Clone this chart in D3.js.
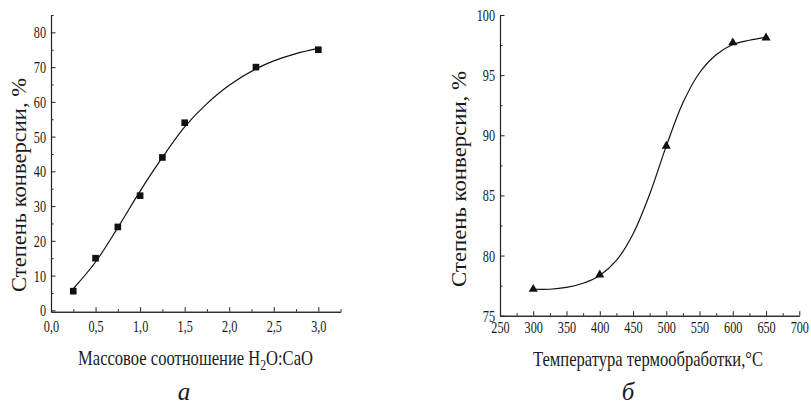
<!DOCTYPE html>
<html><head><meta charset="utf-8">
<script src="https://cdn.jsdelivr.net/npm/d3@7"></script>
<style>
html,body{margin:0;padding:0;background:#fff;}
svg{display:block;}
text{font-family:"Liberation Serif","DejaVu Serif",serif;fill:#1a1a1a;}
</style></head>
<body>
<svg id="chart" width="811" height="407"></svg>
<script>
// ---- data: chart a ----
const ratioX = [0.25, 0.5, 0.75, 1.0, 1.25, 1.5, 2.3, 3.0];
const conversionA = [5.5, 15, 24, 33, 44, 54, 70, 75];
const fitRatioX = [0.25, 0.5, 0.75, 1.0, 1.25, 1.5, 1.75, 2.0, 2.3, 2.5, 2.75, 3.0];
const fitConversionA = [6.2, 13.9, 23.8, 34.3, 44.0, 52.8, 59.5, 64.8, 69.5, 71.8, 73.9, 75.4];
const ticksAX = [0, 0.5, 1.0, 1.5, 2.0, 2.5, 3.0];
const ticksAY = [0, 10, 20, 30, 40, 50, 60, 70, 80];

// ---- data: chart б ----
const tempX = [300, 400, 500, 600, 650];
const conversionB = [77.2, 78.4, 89.1, 97.7, 98.1];
const fitTempX = [300, 325, 350, 375, 400, 425, 450, 475, 500, 525, 550, 575, 600, 625, 650];
const fitConversionB = [77.2, 77.2, 77.35, 77.7, 78.35, 79.6, 81.8, 85.1, 89.1, 92.7, 95.2, 96.7, 97.55, 97.9, 98.15];
const ticksBX = [250, 300, 350, 400, 450, 500, 550, 600, 650, 700];
const ticksBY = [75, 80, 85, 90, 95, 100];

const svg = d3.select("#chart");
const SX = 0.72; // condensed tick font

function styleAxis(g) {
  g.attr("font-family", null);
  g.selectAll("path.domain").attr("stroke", "#222").attr("stroke-width", 1.1);
  g.selectAll(".tick line").attr("stroke", "#222").attr("stroke-width", 1);
  g.selectAll("text").attr("font-size", 17).attr("fill", "#1a1a1a");
}

function drawPanel(cfg) {
  const x = d3.scaleLinear().domain(cfg.xDom).range(cfg.xRange);
  const y = d3.scaleLinear().domain(cfg.yDom).range(cfg.yRange);
  const g = svg.append("g");
  const y0 = cfg.yRange[0], x0 = cfg.xRange[0];

  // minor ticks
  g.append("g").attr("transform", `translate(0,${y0})`)
    .call(d3.axisBottom(x).tickValues(cfg.xMinor).tickSizeInner(-2.5).tickSizeOuter(0).tickFormat(""))
    .call(styleAxis);
  g.append("g").attr("transform", `translate(${x0},0)`)
    .call(d3.axisLeft(y).tickValues(cfg.yMinor).tickSizeInner(-2.5).tickSizeOuter(0).tickFormat(""))
    .call(styleAxis);

  // major x axis
  const gx = g.append("g").attr("transform", `translate(0,${y0})`)
    .call(d3.axisBottom(x).tickValues(cfg.xTicks).tickSizeInner(-4.5).tickSizeOuter(0)
      .tickPadding(cfg.xPad).tickFormat(cfg.xFmt))
    .call(styleAxis);
  gx.selectAll(".tick text").attr("transform", `scale(${SX},1)`);

  // major y axis
  const gy = g.append("g").attr("transform", `translate(${x0},0)`)
    .call(d3.axisLeft(y).tickValues(cfg.yTicks).tickSizeInner(-4.5).tickSizeOuter(0)
      .tickPadding(0).tickFormat(cfg.yFmt))
    .call(styleAxis);
  gy.selectAll(".tick text").attr("x", 0)
    .attr("transform", `translate(${-cfg.yPad},0) scale(${SX},1)`);

  // fit curve
  const line = d3.line().x(d => x(d[0])).y(d => y(d[1])).curve(d3.curveCatmullRom.alpha(0.5));
  g.append("path").datum(d3.zip(cfg.fitX, cfg.fitY))
    .attr("d", line).attr("fill", "none").attr("stroke", "#111").attr("stroke-width", 1.2);

  // markers
  g.selectAll("path.mk").data(d3.zip(cfg.px, cfg.py)).join("path")
    .attr("class", "mk")
    .attr("d", d3.symbol().type(cfg.symbol).size(cfg.symSize))
    .attr("transform", d => `translate(${x(d[0])},${y(d[1])})`)
    .attr("fill", "#111");

  // y label
  const yl = g.append("text").attr("font-size", 20).attr("text-anchor", "middle")
    .text("Степень конверсии, %");
  const sy = cfg.yLabelW / yl.node().getComputedTextLength();
  yl.attr("transform", `translate(${cfg.yLabelX},${cfg.yLabelY}) rotate(-90) scale(${sy},1)`);

  // x label
  const xl = g.append("text").attr("font-size", 20).attr("text-anchor", "middle");
  cfg.xLabel(xl);
  const sx = cfg.xLabelW / xl.node().getBBox().width;
  xl.attr("transform", `translate(${cfg.xLabelX},${cfg.xLabelY}) scale(${sx},1)`);

  // panel letter
  g.append("text").attr("x", cfg.letterX).attr("y", 400).attr("font-size", 25)
    .attr("font-style", "italic").attr("text-anchor", "middle").text(cfg.letter);
}

const commaFmt = d => d3.format(".1f")(d).replace(".", ",");

drawPanel({
  xDom: [0, 3.25], xRange: [51, 340.6],
  yDom: [-0.4, 85], yRange: [311.7, 15],
  xTicks: ticksAX, yTicks: ticksAY,
  xMinor: d3.range(0.25, 3.3, 0.5), yMinor: d3.range(5, 90, 10),
  xFmt: commaFmt, yFmt: d3.format("d"),
  xPad: 8.5, yPad: 5,
  fitX: fitRatioX, fitY: fitConversionA, px: ratioX, py: conversionA,
  symbol: d3.symbolSquare, symSize: 44,
  yLabelX: 26, yLabelY: 185, yLabelW: 214,
  xLabel: t => {
    t.append("tspan").text("Массовое соотношение H");
    t.append("tspan").attr("font-size", 14).attr("dy", 5).text("2");
    t.append("tspan").attr("dy", -5).text("O:CaO");
  },
  xLabelX: 195.5, xLabelY: 365, xLabelW: 235,
  letter: "а", letterX: 184
});

drawPanel({
  xDom: [250, 700], xRange: [500, 799.3],
  yDom: [75, 100], yRange: [315.7, 15],
  xTicks: ticksBX, yTicks: ticksBY,
  xMinor: d3.range(275, 700, 50), yMinor: d3.range(77.5, 100, 5),
  xFmt: d3.format("d"), yFmt: d3.format("d"),
  xPad: 5.5, yPad: 5,
  fitX: fitTempX, fitY: fitConversionB, px: tempX, py: conversionB,
  symbol: d3.symbolTriangle, symSize: 36,
  yLabelX: 466, yLabelY: 179, yLabelW: 216,
  xLabel: t => { t.text("Температура термообработки,°С"); },
  xLabelX: 648, xLabelY: 366, xLabelW: 230,
  letter: "б", letterX: 628
});
</script>
</body></html>
